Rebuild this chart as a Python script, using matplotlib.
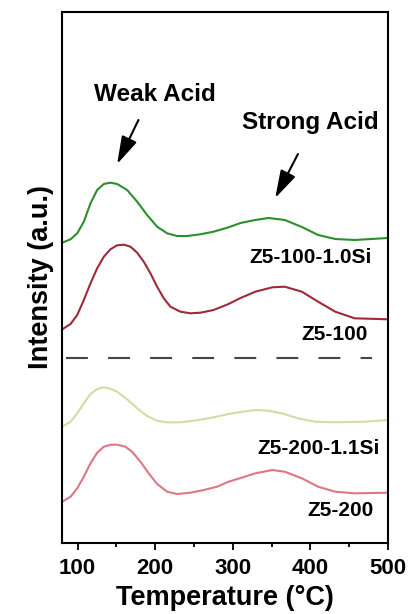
import matplotlib.pyplot as plt
from matplotlib.ticker import MultipleLocator

plt.rcParams['font.family'] = ['Liberation Sans', 'DejaVu Sans']
plt.rcParams['font.weight'] = 'bold'

# TPD curves (temperature in C, intensity in a.u., stacked)
t_z5_100_si = [80.3, 91, 99.6, 108.1, 116.7, 125.3, 133.9, 142.4, 151, 163.9, 176.8,
               189.6, 202.5, 215.4, 228.2, 241.1, 258.2, 275.3, 294.6, 310, 329, 346,
               367, 389, 410, 432, 457, 500]
i_z5_100_si = [300.3, 303.7, 309.7, 321.3, 339.7, 353, 359, 360.3, 359, 353, 341.3,
               328, 316.3, 309.7, 307, 307, 308.7, 311.3, 315.7, 320, 323, 325,
               323, 316, 308, 304, 303, 305]

t_z5_100 = [80.3, 91, 99.6, 108.1, 116.7, 125.3, 133.9, 142.4, 151, 159.6, 168.2, 176.8,
            185.3, 193.9, 202.5, 211.1, 219.7, 232.5, 245.4, 258.2, 275.3, 294.6, 310,
            329, 351, 367, 389, 410, 432, 457, 500]
i_z5_100 = [213.7, 219, 228, 243, 259.7, 274.7, 286.3, 293.7, 297.7, 298.3, 296.3, 290.3,
            281.3, 269.7, 256.3, 244.7, 236.3, 231.3, 229.7, 230.3, 233, 239, 245,
            251.3, 255.7, 256.3, 251.3, 241.3, 231.3, 224.7, 223.7]

t_z5_200_si = [80.3, 91, 99.6, 108.1, 116.7, 125.3, 133.9, 142.4, 151, 163.9, 176.8,
               189.6, 202.5, 215.4, 232.5, 249.9, 271, 294.6, 310, 329, 346, 363, 384,
               406, 432, 470, 500]
i_z5_200_si = [116.3, 121.3, 129.7, 139.7, 149, 154, 155.7, 154.3, 151.3, 143.7, 134.7,
               127, 122.3, 120.7, 120.7, 122.3, 125, 129, 131, 133, 132.3, 129.7, 124.7,
               121.3, 120.7, 121.3, 123]

t_z5_200 = [80.3, 91, 99.6, 108.1, 116.7, 125.3, 133.9, 142.4, 151, 161.7, 170.3, 181,
            191.7, 202.5, 215.4, 228.2, 245.4, 262.6, 279.7, 294.6, 310, 329, 351, 367,
            389, 410, 432, 457, 500]
i_z5_200 = [41.3, 46.3, 54.7, 66.3, 79.7, 90.3, 96.3, 98.3, 98.3, 96.3, 91.3, 81.3,
            69.7, 59, 51.3, 49, 50.3, 53, 56.3, 61.3, 65, 69.7, 73, 71.3,
            64.7, 56.3, 51.3, 49.7, 50.3]

divider_level = 184.7

fig = plt.figure(figsize=(4.08, 6.14), dpi=100)
ax = fig.add_axes([0.152, 0.1156, 0.799, 0.8649])

ax.plot(t_z5_100_si, i_z5_100_si, color='#2b8f2b', lw=1.5)
ax.plot(t_z5_100, i_z5_100, color='#9e2a3a', lw=1.5)
ax.plot(t_z5_200_si, i_z5_200_si, color='#d3dca2', lw=1.5)
ax.plot(t_z5_200, i_z5_200, color='#df7686', lw=1.5)

ax.plot([85, 480], [divider_level, divider_level], color='#454545', lw=1.5,
        linestyle=(0, (10.5, 9.7)))

# labels of the curves
ax.text(479, 285, 'Z5-100-1.0Si', ha='right', va='center', fontsize=15, fontweight='bold')
ax.text(474, 209, 'Z5-100', ha='right', va='center', fontsize=15, fontweight='bold')
ax.text(490, 95, 'Z5-200-1.1Si', ha='right', va='center', fontsize=15, fontweight='bold')
ax.text(481, 33, 'Z5-200', ha='right', va='center', fontsize=15, fontweight='bold')

ax.text(200, 448, 'Weak Acid', ha='center', va='center', fontsize=17.5, fontweight='bold')
ax.text(400, 420, 'Strong Acid', ha='center', va='center', fontsize=17.5, fontweight='bold')
arrow = dict(arrowstyle='-|>,head_length=1.7,head_width=0.5', color='black', lw=1.5,
             shrinkA=0, shrinkB=0)
ax.annotate('', xy=(151, 379), xytext=(178.5, 423), arrowprops=arrow)
ax.annotate('', xy=(354.7, 345), xytext=(384, 389), arrowprops=arrow)

ax.set_xlim(80, 500)
ax.set_ylim(0, 531)
ax.xaxis.set_major_locator(MultipleLocator(100))
ax.xaxis.set_minor_locator(MultipleLocator(50))
ax.set_yticks([])
ax.tick_params(axis='x', which='major', length=5, width=1.3, labelsize=16, pad=6)
ax.tick_params(axis='x', which='minor', length=3, width=1.3)
for lbl in ax.get_xticklabels():
    lbl.set_fontweight('bold')
for s in ax.spines.values():
    s.set_linewidth(1.5)

ax.set_xlabel('Temperature (\u00b0C)', fontsize=19.5, fontweight='bold', labelpad=4)
ax.set_ylabel('Intensity (a.u.)', fontsize=19.5, fontweight='bold', labelpad=6)

plt.savefig('out.png', dpi=100)
